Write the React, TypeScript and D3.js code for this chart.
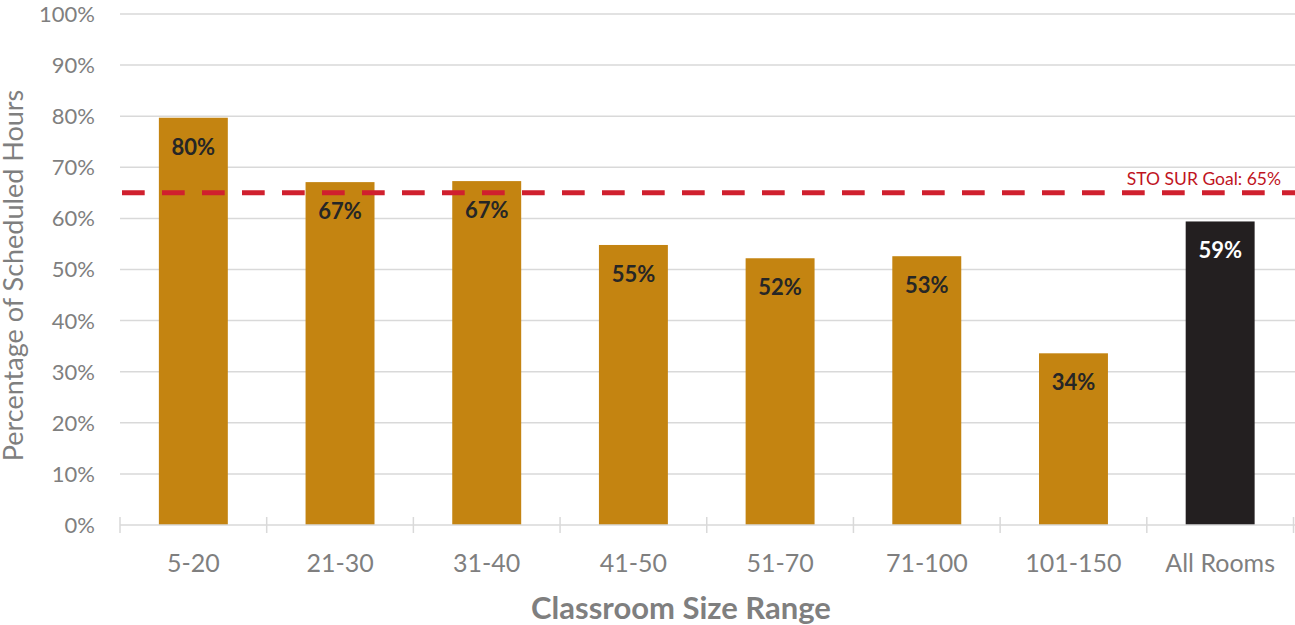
import React from "react";
import * as d3 from "d3";

// Classroom utilisation by room size range
const categories = ["5-20", "21-30", "31-40", "41-50", "51-70", "71-100", "101-150", "All Rooms"];
const utilization = [0.797, 0.671, 0.673, 0.548, 0.522, 0.526, 0.336, 0.594];
const yTicks = [0, 0.1, 0.2, 0.3, 0.4, 0.5, 0.6, 0.7, 0.8, 0.9, 1.0];
const goalValue = 0.65;
const goalLabel = "STO SUR Goal: 65%";

const W = 1295;
const H = 625;
const margin = { top: 14, right: 0, bottom: 100, left: 120 };
const FONT = "Lato, 'Open Sans', sans-serif";
const GOLD = "#c48411";
const DARK = "#231f20";
const GREY_TEXT = "#7f7f7f";
const GRID = "#d9d9d9";

export default function App() {
  const x = d3
    .scaleBand<string>()
    .domain(categories)
    .range([margin.left, W - margin.right - 1.5])
    .paddingInner(0.53)
    .paddingOuter(0.265);
  const y = d3
    .scaleLinear()
    .domain([0, 1])
    .range([H - margin.bottom, margin.top]);

  const step = x.step();
  const x0 = margin.left;
  const x1 = W;
  const yBase = y(0);
  const fmt = d3.format(".0%");

  return (
    <svg
      width={W}
      height={H}
      style={{ position: "absolute", left: 0, top: 0, background: "#fff" }}
      fontFamily={FONT}
    >
      {/* horizontal gridlines */}
      {yTicks.slice(1).map((t) => (
        <line key={t} x1={x0} x2={x1} y1={y(t)} y2={y(t)} stroke={GRID} strokeWidth={1.5} />
      ))}

      {/* y tick labels */}
      {yTicks.map((t) => (
        <text
          key={"yl" + t}
          x={95}
          y={y(t)}
          dy="0.36em"
          textAnchor="end"
          fontSize={22}
          fill={GREY_TEXT}
        >
          {fmt(t)}
        </text>
      ))}

      {/* bars */}
      {categories.map((c, i) => {
        const v = utilization[i];
        const isTotal = c === "All Rooms";
        return (
          <g key={c}>
            <rect
              x={x(c)}
              y={y(v)}
              width={x.bandwidth()}
              height={yBase - y(v)}
              fill={isTotal ? DARK : GOLD}
            />
            <text
              x={(x(c) as number) + x.bandwidth() / 2}
              y={y(v) + 37}
              textAnchor="middle"
              fontSize={22}
              fontWeight="bold"
              fill={isTotal ? "#ffffff" : "#262626"}
            >
              {fmt(Math.round(v * 100) / 100)}
            </text>
          </g>
        );
      })}

      {/* x axis with category separators */}
      <line x1={x0} x2={x1} y1={yBase} y2={yBase} stroke={GRID} strokeWidth={1.5} />
      {d3.range(categories.length + 1).map((i) => {
        const tx = x0 + i * step;
        return (
          <line key={"t" + i} x1={tx} x2={tx} y1={yBase - 8} y2={yBase + 8} stroke={GRID} strokeWidth={1.5} />
        );
      })}
      {categories.map((c) => (
        <text
          key={"xl" + c}
          x={(x(c) as number) + x.bandwidth() / 2}
          y={572}
          textAnchor="middle"
          fontSize={25}
          fill={GREY_TEXT}
        >
          {c}
        </text>
      ))}

      {/* goal line */}
      <line
        x1={x0 + 2}
        x2={x1}
        y1={y(goalValue)}
        y2={y(goalValue)}
        stroke="#d0202e"
        strokeWidth={5}
        strokeDasharray="22.7 17.3"
      />
      <text x={1281} y={185} textAnchor="end" fontSize={17.5} fill="#c0141e">
        {goalLabel}
      </text>

      {/* axis titles */}
      <text
        transform={`translate(23, ${(y(0) + y(1)) / 2 + 6}) rotate(-90)`}
        textAnchor="middle"
        fontSize={27}
        fill={GREY_TEXT}
      >
        Percentage of Scheduled Hours
      </text>
      <text x={681} y={619} textAnchor="middle" fontSize={31} fontWeight="bold" fill={GREY_TEXT}>
        Classroom Size Range
      </text>
    </svg>
  );
}
